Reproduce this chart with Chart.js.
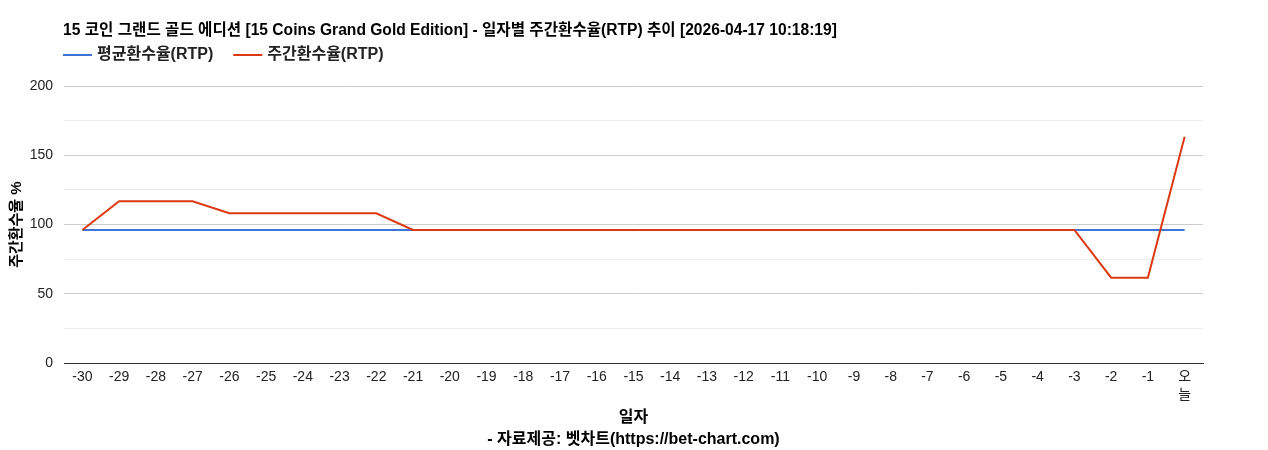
<!DOCTYPE html>
<html>
<head>
<meta charset="utf-8">
<script src="https://cdn.jsdelivr.net/npm/chart.js@4"></script>
<style>
  html, body { margin: 0; padding: 0; background: #fff; }
  #wrap { width: 1268px; height: 450px; }
</style>
</head>
<body>
<div id="wrap"><canvas id="graficoRtp"></canvas></div>
<script>
// 데이터
const TITULO = '15 코인 그랜드 골드 에디션 [15 Coins Grand Gold Edition] - 일자별 주간환수율(RTP) 추이 [2026-04-17 10:18:19]';
const dias = ['-30', '-29', '-28', '-27', '-26', '-25', '-24', '-23', '-22', '-21', '-20', '-19', '-18', '-17', '-16',
  '-15', '-14', '-13', '-12', '-11', '-10', '-9', '-8', '-7', '-6', '-5', '-4', '-3', '-2', '-1', ['오', '늘']];
const rtpMedio = [96.1, 96.1, 96.1, 96.1, 96.1, 96.1, 96.1, 96.1, 96.1, 96.1, 96.1, 96.1, 96.1, 96.1, 96.1, 96.1,
  96.1, 96.1, 96.1, 96.1, 96.1, 96.1, 96.1, 96.1, 96.1, 96.1, 96.1, 96.1, 96.1, 96.1, 96.1];
const rtpSemanal = [96.1, 116.8, 116.8, 116.8, 108.2, 108.2, 108.2, 108.2, 108.2, 96.1, 96.1, 96.1, 96.1, 96.1, 96.1, 96.1,
  96.1, 96.1, 96.1, 96.1, 96.1, 96.1, 96.1, 96.1, 96.1, 96.1, 96.1, 96.1, 61.7, 61.7, 163.4];
const rotulosSeries = ['평균환수율(RTP)', '주간환수율(RTP)'];
const ticksY = [0, 50, 100, 150, 200];

const FONTE = '"Liberation Sans", Arial, "Noto Sans CJK KR", sans-serif';

// titulo + legenda desenhados alinhados ao chartArea
const cabecalho = {
  id: 'cabecalho',
  afterDraw(chart) {
    const c = chart.ctx;
    const x0 = chart.chartArea.left - 1;
    c.save();
    c.fillStyle = '#000';
    c.textBaseline = 'middle';
    c.textAlign = 'left';
    c.font = 'bold 15.6px ' + FONTE;
    c.fillText(TITULO, x0, 31);

    let x = x0;
    c.font = 'bold 16px ' + FONTE;
    chart.data.datasets.forEach(ds => {
      c.strokeStyle = ds.borderColor;
      c.lineWidth = 2;
      c.beginPath();
      c.moveTo(x, 55);
      c.lineTo(x + 29, 55);
      c.stroke();
      c.fillStyle = '#222';
      c.fillText(ds.label, x + 34, 55);
      x += 34 + c.measureText(ds.label).width + 20;
    });
    c.restore();
  }
};

new Chart(document.getElementById('graficoRtp'), {
  type: 'line',
  data: {
    labels: dias,
    datasets: [{
      label: rotulosSeries[0],
      data: rtpMedio,
      borderColor: '#3f73d6',
      borderWidth: 2,
      pointRadius: 0,
      tension: 0,
      order: 1
    }, {
      label: rotulosSeries[1],
      data: rtpSemanal,
      borderColor: '#dc3912',
      borderWidth: 2,
      pointRadius: 0,
      tension: 0,
      order: 0
    }]
  },
  options: {
    responsive: true,
    maintainAspectRatio: false,
    animation: false,
    layout: { padding: { top: 86, left: 8, right: 65, bottom: 0 } },
    plugins: {
      legend: { display: false },
      title: { display: false },
      tooltip: { enabled: false }
    },
    scales: {
      x: {
        offset: true,
        grid: { display: false, drawTicks: false },
        border: { display: true, color: '#333', width: 1 },
        ticks: {
          autoSkip: false, maxRotation: 0, minRotation: 0, padding: 4,
          color: '#222', font: { family: FONTE, size: 14, lineHeight: 1.35 }
        },
        title: {
          display: true,
          text: ['일자', '- 자료제공: 벳차트(https://bet-chart.com)'],
          color: '#000',
          font: { family: FONTE, size: 16, weight: 'bold', lineHeight: 1.375 },
          padding: { top: -2, bottom: -1 }
        }
      },
      y: {
        min: 0,
        max: 200,
        afterFit: (axis) => { axis.width = 56; },
        border: { display: false },
        grid: {
          drawTicks: false,
          color: (ctx) => ctx.tick.value === 0 ? '#333' : (ticksY.includes(ctx.tick.value) ? '#cccccc' : '#ebebeb')
        },
        ticks: {
          stepSize: 25,
          padding: 11,
          color: '#222',
          font: { family: FONTE, size: 14 },
          callback: (v) => ticksY.includes(v) ? v : ''
        },
        title: {
          display: true,
          text: '주간환수율 %',
          color: '#000',
          font: { family: FONTE, size: 15, weight: 'bold' },
          padding: { top: 0, bottom: 0 }
        }
      }
    }
  },
  plugins: [cabecalho]
});
</script>
</body>
</html>
